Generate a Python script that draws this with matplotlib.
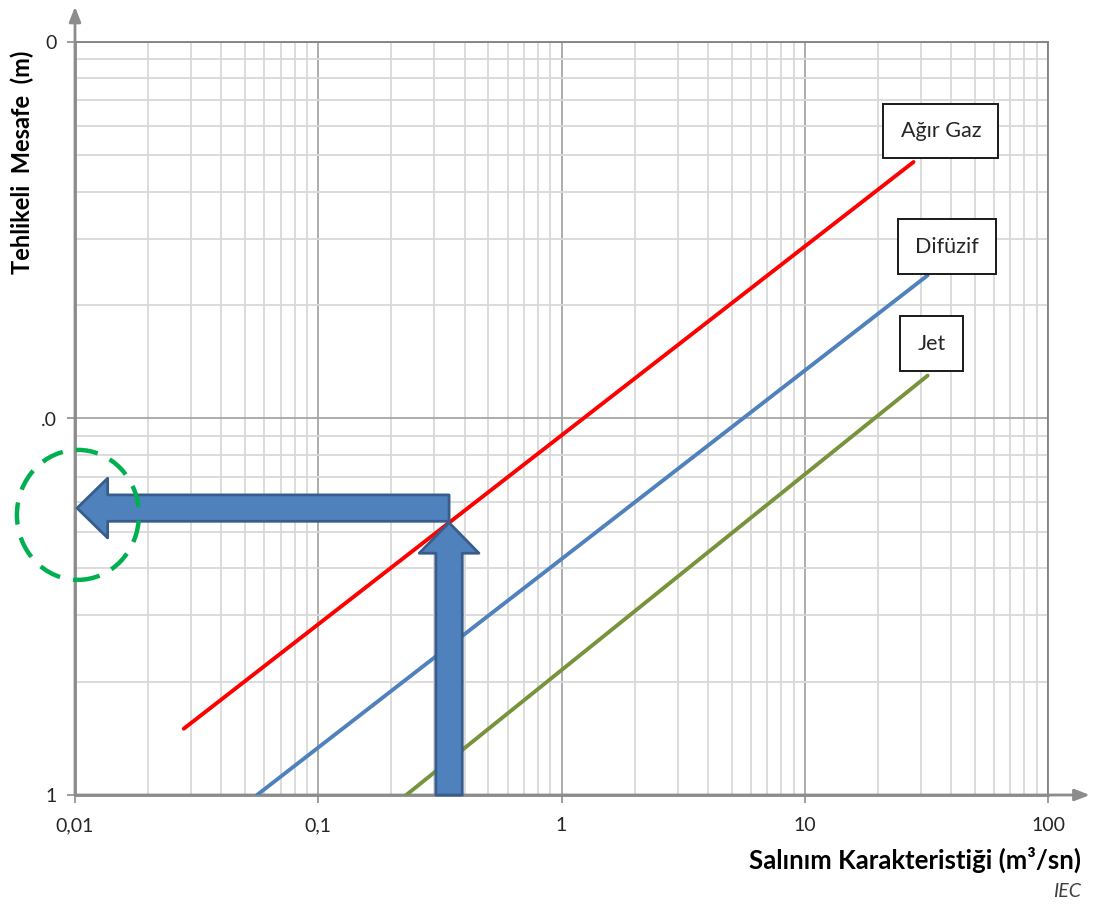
import matplotlib

matplotlib.use("Agg")

import matplotlib.pyplot as plt
import numpy as np
from matplotlib.patches import Ellipse
from matplotlib.ticker import FixedLocator, LogLocator, NullFormatter
from matplotlib.transforms import offset_copy

plt.rcParams["font.family"] = ["Lato", "DejaVu Sans"]

# release characteristic (m3/sn) vs hazardous distance (m), line end points
HEAVY_X = [0.028, 28.0]
HEAVY_Y = [1.5, 48.0]
DIFFUSIVE_X = [0.056, 32.0]
DIFFUSIVE_Y = [1.0, 24.0]
JET_X = [0.23, 32.0]
JET_Y = [1.0, 13.0]

SERIES_NAMES = ["Ağır Gaz", "Difüzif", "Jet"]
SERIES_COLORS = ["#FF0000", "#4F81BD", "#77933C"]
LABEL_POS = [(36.3, 58.0), (38.4, 28.6), (33.3, 15.8)]

X_TICKS = [0.01, 0.1, 1, 10, 100]
X_TICK_LABELS = ["0,01", "0,1", "1", "10", "100"]
Y_TICKS = [1, 10, 100]
Y_TICK_LABELS = ["1", ".0", "0"]

EXAMPLE_RATE = 0.345

ARROW_FC = "#4F81BD"
ARROW_EC = "#385D8A"
AXIS_GRAY = "#8C8C8C"
TEXT_COLOR = "#262626"


def loglog_interp(x, xs, ys):
    return 10 ** np.interp(np.log10(x), np.log10(xs), np.log10(ys))


fig = plt.figure(figsize=(10.97, 9.05), dpi=100)
ax = fig.add_axes([75 / 1097, 1 - 795 / 905, 973 / 1097, 753 / 905])
ax.set_xscale("log")
ax.set_yscale("log")
ax.set_xlim(0.01, 100)
ax.set_ylim(1, 100)

# log grid: light minor lines, darker decades
ax.xaxis.set_minor_locator(LogLocator(base=10, subs=np.arange(2, 10)))
ax.yaxis.set_minor_locator(LogLocator(base=10, subs=np.arange(2, 10)))
ax.xaxis.set_minor_formatter(NullFormatter())
ax.yaxis.set_minor_formatter(NullFormatter())
ax.grid(True, which="minor", color="#D9D9D9", linewidth=1.3)
ax.grid(True, which="major", color="#A6A6A6", linewidth=1.3)
ax.set_axisbelow(True)

ax.xaxis.set_major_locator(FixedLocator(X_TICKS))
ax.yaxis.set_major_locator(FixedLocator(Y_TICKS))
ax.set_xticklabels(X_TICK_LABELS)
ax.set_yticklabels(Y_TICK_LABELS)
ax.tick_params(which="major", length=6, width=1.2, color=AXIS_GRAY,
               labelsize=14, labelcolor=TEXT_COLOR, pad=7)
ax.tick_params(axis="x", pad=10)
ax.tick_params(which="minor", length=0)

for side in ["top", "right"]:
    ax.spines[side].set_color("#808080")
    ax.spines[side].set_linewidth(1.3)
for side in ["left", "bottom"]:
    ax.spines[side].set_color(AXIS_GRAY)
    ax.spines[side].set_linewidth(2)

# arrowheads on the axes
axis_arrow = dict(arrowstyle="-|>,head_length=0.9,head_width=0.35", color=AXIS_GRAY,
                  lw=2, shrinkA=0, shrinkB=0)
ax.annotate("", xy=(0, 1.047), xytext=(0, 0), xycoords="axes fraction",
            arrowprops=axis_arrow, annotation_clip=False)
ax.annotate("", xy=(1.043, 0), xytext=(0, 0), xycoords="axes fraction",
            arrowprops=axis_arrow, annotation_clip=False)

series = [(HEAVY_X, HEAVY_Y), (DIFFUSIVE_X, DIFFUSIVE_Y), (JET_X, JET_Y)]
for (xs, ys), name, color, pos in zip(series, SERIES_NAMES, SERIES_COLORS, LABEL_POS):
    ax.plot(xs, ys, color=color, linewidth=2.8, solid_capstyle="round", zorder=3)
    ax.text(pos[0], pos[1], name, fontsize=15.5, color=TEXT_COLOR, ha="center", va="center",
            bbox=dict(boxstyle="square,pad=0.8", fc="white", ec="#1a1a1a", lw=1.4), zorder=5)

# reading example: release rate up to the heavy gas line, then across to the distance axis
hit_y = loglog_interp(EXAMPLE_RATE, HEAVY_X, HEAVY_Y)
big_arrow = dict(arrowstyle="simple,head_length=22,head_width=43,tail_width=19",
                 mutation_scale=1, fc=ARROW_FC, ec=ARROW_EC, lw=2, shrinkA=0, shrinkB=0)
ax.annotate("", xy=(EXAMPLE_RATE, hit_y), xytext=(EXAMPLE_RATE, 1.0),
            arrowprops=big_arrow, zorder=6)
raised = offset_copy(ax.transData, fig=fig, x=0, y=10.5, units="points")
ax.annotate("", xy=(0.0102, hit_y), xytext=(EXAMPLE_RATE, hit_y),
            xycoords=raised, textcoords=raised,
            arrowprops=big_arrow, annotation_clip=False, zorder=6)

ax.add_patch(Ellipse((0.003, 0.372), 0.1254, 0.1726, transform=ax.transAxes,
                     fill=False, ec="#00B050", lw=3.2, ls=(0, (5, 3)),
                     clip_on=False, zorder=7))

fig.text(22 / 1097, 1 - 162 / 905, "Tehlikeli  Mesafe  (m)", rotation=90,
         ha="center", va="center", fontsize=17, fontweight="bold", color="black")
fig.text(1081 / 1097, 1 - 860 / 905, "Salınım Karakteristiği (m³/sn)",
         ha="right", va="center", fontsize=18.5, fontweight="bold", color="black")
fig.text(1081 / 1097, 1 - 891 / 905, "IEC", ha="right", va="center",
         fontsize=14, style="italic", color="#404040")

fig.savefig("out.png", dpi=100)
